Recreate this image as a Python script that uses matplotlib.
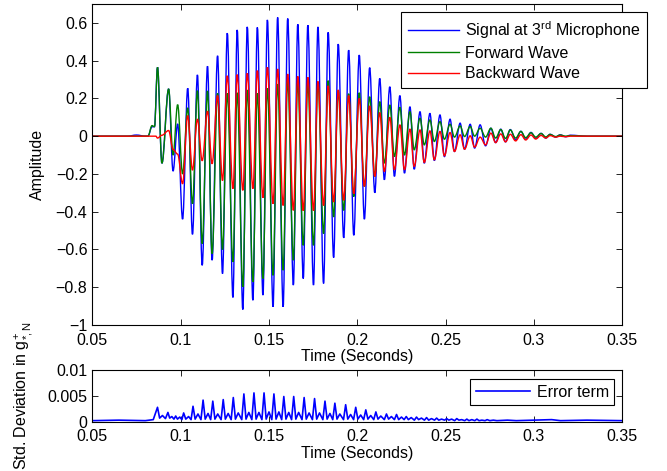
import numpy as np
import matplotlib
matplotlib.use("Agg")
import matplotlib.pyplot as plt
from matplotlib.path import Path
from matplotlib.patches import PathPatch
from matplotlib.ticker import FuncFormatter

plt.rcParams['font.family'] = ['Liberation Sans', 'DejaVu Sans']
plt.rcParams['font.size'] = 11.5
plt.rcParams['mathtext.fontset'] = 'custom'
plt.rcParams['mathtext.rm'] = 'Liberation Sans'
plt.rcParams['mathtext.it'] = 'Liberation Sans:italic'

# times (s) of the peaks / troughs shared by the three waves
t_ext = [0.0869, 0.0894, 0.0932, 0.0957, 0.0983, 0.1011, 0.1040, 0.1067, 0.1095, 0.1122,
         0.1152, 0.1178, 0.1209, 0.1237, 0.1264, 0.1296, 0.1320, 0.1352, 0.1377, 0.1409,
         0.1434, 0.1466, 0.1491, 0.1523, 0.1549, 0.1580, 0.1606, 0.1638, 0.1663, 0.1694,
         0.1720, 0.1752, 0.1777, 0.1809, 0.1835, 0.1866, 0.1892, 0.1923, 0.1951, 0.1980,
         0.2011, 0.2040, 0.2070, 0.2099, 0.2127, 0.2153, 0.2184, 0.2210, 0.2241, 0.2267,
         0.2298, 0.2322, 0.2355, 0.2379, 0.2411, 0.2436, 0.2468, 0.2493, 0.2525, 0.2550,
         0.2582, 0.2607, 0.2639, 0.2664, 0.2695, 0.2726, 0.2756, 0.2783, 0.2812, 0.2839,
         0.2866, 0.2896, 0.2926, 0.2953, 0.2983, 0.3010, 0.3040, 0.3067, 0.3091, 0.3123,
         0.3148, 0.3180, 0.3205]

signal_ext = [0.365, -0.143, 0.250, -0.185, 0.065, -0.440, 0.254, -0.520, 0.325, -0.684,
              0.371, -0.657, 0.426, -0.728, 0.546, -0.854, 0.563, -0.918, 0.579, -0.869,
              0.576, -0.842, 0.616, -0.904, 0.629, -0.904, 0.623, -0.789, 0.593, -0.754,
              0.588, -0.789, 0.579, -0.780, 0.550, -0.643, 0.488, -0.539, 0.456, -0.525,
              0.430, -0.440, 0.363, -0.300, 0.306, -0.231, 0.262, -0.213, 0.215, -0.196,
              0.156, -0.175, 0.130, -0.143, 0.121, -0.129, 0.113, -0.108, 0.090, -0.081,
              0.069, -0.069, 0.063, -0.063, 0.060, -0.051, 0.042, -0.034, 0.037, -0.030,
              0.035, -0.020, 0.026, -0.017, 0.020, -0.012, 0.015, -0.010, 0.010, -0.005,
              0.007, -0.003, 0.005]

forward_ext = [0.365, -0.143, 0.250, -0.100, 0.167, -0.200, 0.150, -0.358, 0.241, -0.569,
               0.240, -0.622, 0.227, -0.600, 0.227, -0.666, 0.230, -0.798, 0.245, -0.772,
               0.227, -0.754, 0.254, -0.737, 0.276, -0.710, 0.294, -0.657, 0.285, -0.578,
               0.276, -0.578, 0.285, -0.516, 0.294, -0.428, 0.238, -0.393, 0.225, -0.320,
               0.230, -0.266, 0.209, -0.213, 0.183, -0.143, 0.165, -0.108, 0.153, -0.100,
               0.130, -0.072, 0.095, -0.046, 0.086, -0.028, 0.077, -0.016, 0.063, -0.005,
               0.054, -0.002, 0.051, 0.000, 0.042, -0.005, 0.042, -0.010, 0.035, -0.012,
               0.033, -0.010, 0.025, -0.008, 0.018, -0.005, 0.014, -0.004, 0.009, -0.002,
               0.006, 0.000, 0.003]

backward_ext = [-0.010, 0.005, 0.030, -0.070, -0.095, -0.252, 0.109, -0.180, 0.090, -0.130,
                0.132, -0.146, 0.215, -0.235, 0.320, -0.278, 0.326, -0.287, 0.333, -0.278,
                0.347, -0.326, 0.365, -0.358, 0.356, -0.367, 0.329, -0.393, 0.317, -0.395,
                0.312, -0.395, 0.290, -0.367, 0.267, -0.349, 0.245, -0.340, 0.215, -0.305,
                0.200, -0.266, 0.160, -0.213, 0.125, -0.187, 0.100, -0.178, 0.060, -0.178,
                0.037, -0.160, 0.033, -0.139, 0.028, -0.125, 0.025, -0.104, 0.019, -0.081,
                0.007, -0.069, 0.002, -0.058, -0.005, -0.046, 0.016, -0.034, 0.012, -0.030,
                0.010, -0.025, 0.008, -0.020, 0.006, -0.015, 0.004, -0.010, 0.003, -0.005,
                0.000, -0.003, 0.000]

# quiet part before the onset and after the decay
signal_lead_t = [0.050, 0.070, 0.075, 0.080, 0.0815, 0.0838, 0.0852]
signal_lead_v = [0.0, 0.0, 0.006, 0.0, 0.0, 0.050, 0.050]
forward_lead_t = [0.050, 0.0815, 0.0838, 0.0852]
forward_lead_v = [0.0, 0.0, 0.056, 0.050]
backward_lead_t = [0.050, 0.0860]
backward_lead_v = [0.0, 0.0]
tail_t = [0.330, 0.350]
tail_v = [0.0, 0.0]

# error term (std. deviation), vertices in time order
err_t = [0.0500, 0.0650, 0.0800, 0.0845,
         0.0869, 0.0881, 0.0897, 0.0914,
         0.0928, 0.0938, 0.0950, 0.0962,
         0.0972, 0.0982, 0.0995, 0.1007,
         0.1017, 0.1029, 0.1045, 0.1059,
         0.1070, 0.1082, 0.1098, 0.1115,
         0.1127, 0.1139, 0.1155, 0.1170,
         0.1182, 0.1194, 0.1210, 0.1229,
         0.1241, 0.1253, 0.1269, 0.1286,
         0.1298, 0.1310, 0.1326, 0.1346,
         0.1358, 0.1370, 0.1386, 0.1403,
         0.1415, 0.1427, 0.1443, 0.1460,
         0.1472, 0.1484, 0.1500, 0.1516,
         0.1528, 0.1540, 0.1556, 0.1572,
         0.1584, 0.1596, 0.1612, 0.1628,
         0.1640, 0.1652, 0.1668, 0.1687,
         0.1699, 0.1711, 0.1727, 0.1746,
         0.1758, 0.1770, 0.1786, 0.1805,
         0.1817, 0.1829, 0.1845, 0.1861,
         0.1873, 0.1885, 0.1901, 0.1922,
         0.1934, 0.1946, 0.1962, 0.1979,
         0.1991, 0.2003, 0.2019, 0.2036,
         0.2048, 0.2060, 0.2076, 0.2093,
         0.2105, 0.2117, 0.2133, 0.2153,
         0.2165, 0.2177, 0.2193, 0.2210,
         0.2222, 0.2234, 0.2250, 0.2265,
         0.2277, 0.2289, 0.2305, 0.2323,
         0.2335, 0.2347, 0.2363, 0.2380,
         0.2392, 0.2404, 0.2420, 0.2437,
         0.2449, 0.2461, 0.2477, 0.2494,
         0.2506, 0.2518, 0.2534, 0.2551,
         0.2563, 0.2575, 0.2591, 0.2608,
         0.2620, 0.2632, 0.2648, 0.2665,
         0.2677, 0.2689, 0.2705, 0.2723,
         0.2735, 0.2750, 0.2770, 0.2790,
         0.2850, 0.2900, 0.3000, 0.3100, 0.3150, 0.3300, 0.3500]
err_v = [0.0002, 0.0003, 0.0002, 0.0004,
         0.0028, 0.0007, 0.0012, 0.0006,
         0.0018, 0.0007, 0.0010, 0.0005,
         0.0011, 0.0005, 0.0009, 0.0004,
         0.0017, 0.0005, 0.0010, 0.0004,
         0.0030, 0.0005, 0.0015, 0.0004,
         0.0042, 0.0005, 0.0016, 0.0004,
         0.0040, 0.0005, 0.0015, 0.0004,
         0.0043, 0.0005, 0.0016, 0.0004,
         0.0047, 0.0005, 0.0017, 0.0004,
         0.0054, 0.0005, 0.0018, 0.0004,
         0.0056, 0.0005, 0.0018, 0.0004,
         0.0056, 0.0005, 0.0019, 0.0004,
         0.0054, 0.0005, 0.0019, 0.0004,
         0.0049, 0.0005, 0.0018, 0.0004,
         0.0049, 0.0005, 0.0018, 0.0004,
         0.0047, 0.0005, 0.0017, 0.0004,
         0.0045, 0.0005, 0.0017, 0.0004,
         0.0040, 0.0005, 0.0016, 0.0004,
         0.0036, 0.0005, 0.0015, 0.0004,
         0.0033, 0.0005, 0.0014, 0.0004,
         0.0028, 0.0005, 0.0013, 0.0004,
         0.0023, 0.0005, 0.0012, 0.0004,
         0.0019, 0.0005, 0.0011, 0.0004,
         0.0015, 0.0005, 0.0010, 0.0004,
         0.0014, 0.0004, 0.0009, 0.0004,
         0.0010, 0.0004, 0.0008, 0.0003,
         0.0009, 0.0004, 0.0007, 0.0003,
         0.0008, 0.0003, 0.0006, 0.0003,
         0.0007, 0.0003, 0.0005, 0.0003,
         0.0006, 0.0003, 0.0005, 0.0002,
         0.0006, 0.0003, 0.0004, 0.0002,
         0.0005, 0.0002, 0.0004, 0.0002,
         0.0005, 0.0002, 0.0003, 0.0002,
         0.0004, 0.0002, 0.0003, 0.0002,
         0.0003, 0.0002, 0.0003, 0.0004, 0.0002, 0.0003, 0.0002]

x_ticks = [0.05, 0.1, 0.15, 0.2, 0.25, 0.3, 0.35]
amp_ticks = [-1, -0.8, -0.6, -0.4, -0.2, 0, 0.2, 0.4, 0.6]
err_ticks = [0, 0.005, 0.01]

BLUE = (0, 0, 1)
GREEN = (0, 0.5, 0)
RED = (1, 0, 0)


def fmt(v, pos=None):
    return ('%g' % v).replace('-', '\u2212')


def wave(t, v):
    # smooth curve through the read extrema (flat tangent at each one)
    verts = [(t[0], v[0])]
    codes = [Path.MOVETO]
    for i in range(len(t) - 1):
        d = t[i + 1] - t[i]
        verts += [(t[i] + 0.36 * d, v[i]), (t[i + 1] - 0.36 * d, v[i + 1]), (t[i + 1], v[i + 1])]
        codes += [Path.CURVE4] * 3
    return Path(verts, codes)


def style(ax):
    ax.tick_params(direction='in', length=4, width=0.6, top=True, right=True,
                   labelsize=11.5)
    ax.tick_params(axis='x', pad=5.5)
    ax.tick_params(axis='y', pad=3.5)
    for s in ax.spines.values():
        s.set_linewidth(0.8)
    ax.xaxis.set_major_formatter(FuncFormatter(fmt))
    ax.yaxis.set_major_formatter(FuncFormatter(fmt))


fig = plt.figure(figsize=(6.67, 4.71), dpi=100)
ax1 = fig.add_axes([0.1384, 0.3100, 0.7946, 0.6815])
ax2 = fig.add_axes([0.1384, 0.1047, 0.7946, 0.1091])

series = [(signal_lead_t, signal_lead_v, signal_ext, BLUE, 'Signal at 3$^{\\mathrm{rd}}$ Microphone'),
          (forward_lead_t, forward_lead_v, forward_ext, GREEN, 'Forward Wave'),
          (backward_lead_t, backward_lead_v, backward_ext, RED, 'Backward Wave')]
handles = []
for lead_t, lead_v, ext, col, name in series:
    tt = np.concatenate([lead_t, t_ext, tail_t])
    vv = np.concatenate([lead_v, ext, tail_v])
    ax1.add_patch(PathPatch(wave(tt, vv), fill=False, edgecolor=col, lw=1.0))
    h, = ax1.plot([], [], color=col, lw=1.0, label=name)
    handles.append(h)

ax1.set_xlim(0.05, 0.35)
ax1.set_ylim(-1, 0.7)
ax1.set_xticks(x_ticks)
ax1.set_yticks(amp_ticks)
style(ax1)
ax1.set_xlabel('Time (Seconds)', labelpad=1)
ax1.set_ylabel('Amplitude')
ax1.yaxis.set_label_coords(-0.089, 0.5)
leg1 = ax1.legend(handles=handles, loc='upper right', bbox_to_anchor=(1.047, 0.975),
                  fancybox=False, framealpha=1, edgecolor='black', handlelength=3.2,
                  handletextpad=0.35, borderaxespad=0, labelspacing=0.32, borderpad=0.45)
leg1.get_frame().set_linewidth(0.8)

ax2.plot(err_t, err_v, color=BLUE, lw=1.2, label='Error term')
ax2.set_xlim(0.05, 0.35)
ax2.set_ylim(0, 0.01)
ax2.set_xticks(x_ticks)
ax2.set_yticks(err_ticks)
style(ax2)
ax2.set_xlabel('Time (Seconds)', labelpad=1)
ax2.set_ylabel('Std. Deviation in $\\mathrm{g}^{+}_{*,\\mathrm{N}}$')
ax2.yaxis.set_label_coords(-0.108, 0.5)
leg2 = ax2.legend(loc='upper right', bbox_to_anchor=(0.985, 0.83),
                  fancybox=False, framealpha=1, edgecolor='black', handlelength=3.4,
                  handletextpad=0.4, borderaxespad=0, borderpad=0.35)
leg2.get_frame().set_linewidth(0.8)

fig.savefig('out.png', dpi=100)
